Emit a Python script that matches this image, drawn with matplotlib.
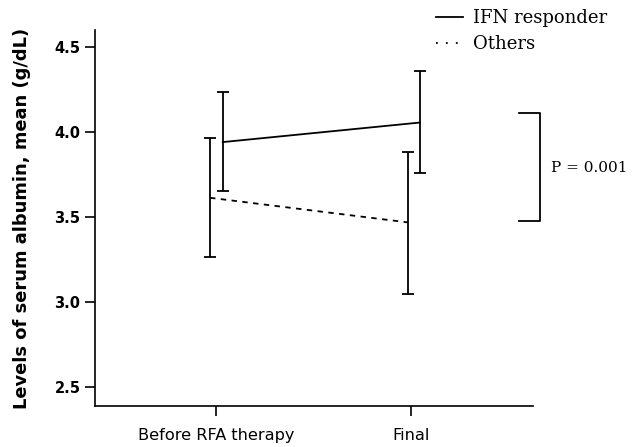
import matplotlib.pyplot as plt
from matplotlib.lines import Line2D

groups = ['Before RFA therapy', 'Final']
resp_mean = [3.94, 4.055]
resp_lo = [3.653, 3.757]
resp_hi = [4.235, 4.357]
oth_mean = [3.612, 3.467]
oth_lo = [3.265, 3.045]
oth_hi = [3.967, 3.882]
yticks = [2.5, 3.0, 3.5, 4.0, 4.5]

fig = plt.figure(figsize=(6.34, 4.47), dpi=100)
ax = fig.add_axes([95/634, 1 - 406/447, (533-95)/634, (406-30)/447])

xr = [0.035, 0.045]
xo = [-0.03, -0.015]
rx = [i + d for i, d in enumerate(xr)]
ox = [i + d for i, d in enumerate(xo)]

ax.errorbar(rx, resp_mean,
            yerr=[[m - l for m, l in zip(resp_mean, resp_lo)], [h - m for m, h in zip(resp_mean, resp_hi)]],
            color='black', lw=1.3, elinewidth=1.3, capsize=4.3, capthick=1.3, ls='-')
ax.errorbar(ox, oth_mean,
            yerr=[[m - l for m, l in zip(oth_mean, oth_lo)], [h - m for m, h in zip(oth_mean, oth_hi)]],
            color='black', lw=1.3, elinewidth=1.3, capsize=4.3, capthick=1.3, ls=(0, (3, 3)))

ax.set_xlim(-0.62, 1.626)
ax.set_ylim(2.386, 4.6)
ax.set_xticks([0, 1])
ax.set_xticklabels(groups, fontsize=11.6)
ax.set_yticks(yticks)
ax.set_yticklabels([f'{v:.1f}' for v in yticks], fontsize=10.5, fontweight='bold')
ax.tick_params(axis='both', direction='out', length=7, width=1.2)
ax.tick_params(axis='x', pad=9)
ax.spines['top'].set_visible(False)
ax.spines['right'].set_visible(False)
ax.spines['left'].set_linewidth(1.2)
ax.spines['bottom'].set_linewidth(1.2)
ax.set_ylabel('Levels of serum albumin, mean (g/dL)', fontsize=12.9, fontweight='bold', labelpad=17)

# bracket with p-value
bx0, bx1 = 1.554, 1.662
ax.plot([bx0, bx1, bx1, bx0], [4.112, 4.112, 3.476, 3.476], color='black', lw=1.3, clip_on=False)
ax.text(1.72, 3.785, 'P = 0.001', fontsize=11, family='DejaVu Serif', va='center', ha='left',
        clip_on=False)

handles = [Line2D([], [], color='black', lw=1.3),
           Line2D([], [], color='black', lw=1.3, ls=(0, (1, 4.5)))]
fig.legend(handles, ['IFN responder', 'Others'], loc='upper left', bbox_to_anchor=(436/634, 1 - 9/447),
           frameon=False, prop={'family': 'DejaVu Serif', 'size': 13}, handlelength=1.5,
           handletextpad=0.55, labelspacing=0.45, borderaxespad=0, borderpad=0)

fig.savefig('out.png', dpi=100)
